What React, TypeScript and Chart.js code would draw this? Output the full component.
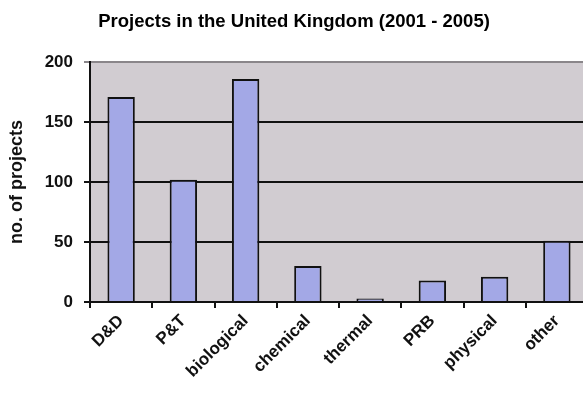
import React, { useEffect, useRef } from "react";
import { Chart, registerables } from "chart.js";

Chart.register(...registerables);

const categories = ["D&D", "P&T", "biological", "chemical", "thermal", "PRB", "physical", "other"];
const projects = [171, 102, 186, 30, 3, 18, 21, 51];
const yTicks = [0, 50, 100, 150, 200];

const FONT = "Liberation Sans, Arial, sans-serif";

const plotBg = {
  id: "plotBg",
  beforeDraw(chart: any) {
    const { ctx, chartArea } = chart;
    ctx.save();
    ctx.fillStyle = "#d1ccd1";
    ctx.fillRect(chartArea.left, chartArea.top, chartArea.right - chartArea.left, chartArea.bottom - chartArea.top);
    ctx.restore();
  },
};

export default function App() {
  const ref = useRef<HTMLCanvasElement>(null);
  useEffect(() => {
    document.body.style.margin = "0";
    document.body.style.overflow = "hidden";
    document.documentElement.style.overflow = "hidden";
    const chart = new Chart(ref.current!, {
      type: "bar",
      data: {
        labels: categories,
        datasets: [
          {
            data: projects,
            backgroundColor: "#a3a8e6",
            borderColor: "#111111",
            borderWidth: 2,
            barPercentage: 0.44,
            categoryPercentage: 1,
          },
        ],
      },
      options: {
        animation: false,
        responsive: false,
        layout: { padding: { left: 0, right: 2, top: 0, bottom: 0 } },
        plugins: {
          legend: { display: false },
          tooltip: { enabled: false },
          title: {
            display: true,
            text: "Projects in the United Kingdom (2001 - 2005)",
            color: "#000",
            font: { family: FONT, size: 18.5, weight: "bold" },
            padding: { top: 11, bottom: 29 },
          },
        },
        scales: {
          x: {
            offset: true,
            afterFit: (s: any) => { s.height = 91; },
            grid: {
              offset: true,
              drawOnChartArea: false,
              drawTicks: true,
              tickLength: 6,
              color: "#111",
              lineWidth: 2,
            },
            border: { display: true, color: "#111", width: 2 },
            ticks: {
              color: "#111",
              font: { family: FONT, size: 17, weight: "bold" },
              minRotation: 45,
              maxRotation: 45,
              padding: 3,
            },
          },
          y: {
            min: 0,
            max: 200,
            afterFit: (s: any) => { s.width = 90; },
            afterBuildTicks: (s: any) => { s.ticks = yTicks.map((v) => ({ value: v })); },
            grid: {
              color: (c: any) => (c.tick && c.tick.value === 200 ? "#8a868a" : "#111"),
              lineWidth: 2,
              tickLength: 6,
            },
            border: { display: true, color: "#111", width: 2 },
            ticks: {
              color: "#111",
              font: { family: FONT, size: 17, weight: "bold" },
              padding: 11,
            },
            title: {
              display: true,
              text: "no. of projects",
              color: "#111",
              font: { family: FONT, size: 18, weight: "bold" },
              padding: { top: 6, bottom: 6 },
            },
          },
        },
      },
      plugins: [plotBg],
    });
    return () => chart.destroy();
  }, []);
  return <canvas ref={ref} width={590} height={393} style={{ display: "block" }} />;
}
